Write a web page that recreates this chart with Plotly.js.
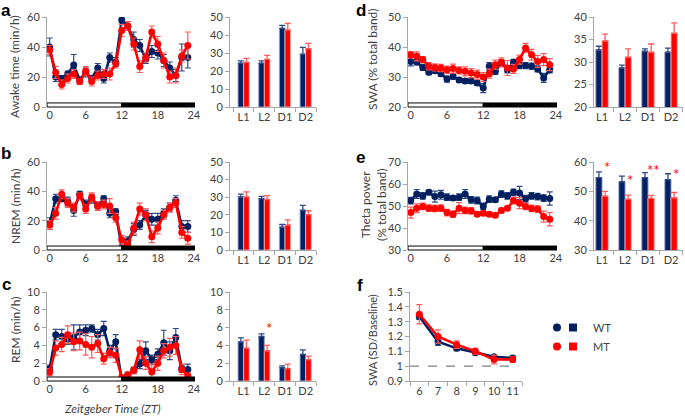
<!DOCTYPE html>
<html><head><meta charset="utf-8">
<script src="https://cdn.plot.ly/plotly-3.0.1.min.js"></script>
<style>body{margin:0;background:#fff}#chart{width:685px;height:418px}</style>
</head><body><div id="chart"></div>
<script>
// ---------- DATA ----------
const ZT = [0,1,2,3,4,5,6,7,8,9,10,11,12,13,14,15,16,17,18,19,20,21,22,23];
const ZT_TICKS = [0,6,12,18,24];
const PHASES = ['L1','L2','D1','D2'];
const LD_START = [0,12];
const LD_END = [12,24];
const SD_HOURS = ['6','7','8','9','10','11'];

// a: Awake time (min/h)
const awakeWT    = [40,20,19,22,28,18,23,19,26,19,33,30,58,54,45,41,32,37,36,31,26,21,33,33];
const awakeWTerr = [6,3,2,2,7,2,3,2,3,3,3,3,2,3,5,4,3,4,4,4,4,4,9,7];
const awakeMT    = [38,23,15,19,22,17,24,17,21,22,22,29,51,54,42,27,33,50,42,31,20,21,34,41];
const awakeMTerr = [3,4,3,3,3,2,3,3,3,3,4,3,4,3,4,4,3,4,5,5,4,5,4,9];
const awakeBarWT = [24.3,24.3,43.7,29.4], awakeBarWTerr = [1.3,1.3,1.7,3.7];
const awakeBarMT = [24.8,26.5,42.8,32.4], awakeBarMTerr = [2.2,2.2,3.7,3.0];

// b: NREM (min/h)
const nremWT    = [18,35,35,33,27,38,31,35,30,35,25,26,1,6,14,17,24,21,21,25,29,34,16,16];
const nremWTerr = [4,3,2,3,4,2,3,3,3,2,3,2,2,3,4,3,3,4,4,3,3,3,4,4];
const nremMT    = [17,25,38,32,29,37,28,36,30,31,30,22,7,3,15,28,24,9,15,24,29,32,12,8];
const nremMTerr = [3,4,3,3,3,2,3,3,3,3,5,3,3,3,4,4,4,4,4,3,3,3,4,4];
const nremBarWT = [30.2,29.2,13.0,22.7], nremBarWTerr = [1.5,1.3,1.5,2.6];
const nremBarMT = [30.2,28.7,14.2,20.1], nremBarMTerr = [2.8,2.2,2.9,2.2];

// c: REM (min/h)
const remWT    = [1.4,5.2,5.0,4.7,4.9,5.5,5.7,5.9,5.2,5.9,3.4,4.4,0.1,0.6,1.2,1.9,3.4,2.4,3.0,4.3,3.4,4.9,1.4,1.3];
const remWTerr = [0.4,0.6,0.8,0.6,1.4,0.8,0.6,0.4,0.6,0.8,0.6,0.8,0.1,0.3,0.3,0.5,1.0,0.5,0.6,1.4,1.0,1.0,0.4,0.6];
const remMT    = [1.0,3.7,4.1,5.2,4.4,4.5,4.1,3.8,4.2,2.5,3.2,2.9,0.4,0.7,1.2,3.5,2.0,1.0,2.0,3.4,3.8,4.0,1.3,0.6];
const remMTerr = [0.4,0.8,0.8,1.0,1.0,1.0,1.2,1.2,1.0,0.6,0.6,0.8,0.2,0.3,0.4,1.0,0.7,0.8,0.8,0.8,1.0,1.0,0.6,0.3];
const remBarWT = [4.4,5.0,1.5,3.0], remBarWTerr = [0.45,0.3,0.2,0.5];
const remBarMT = [3.7,3.4,1.4,2.4], remBarMTerr = [0.9,0.6,0.5,0.4];
const remSig = ['','*','',''];

// d: SWA (% total band)
const swaWT    = [35.2,35.0,33.2,31.6,32.1,31.1,29.3,30.2,29.0,28.7,28.7,28.0,26.3,33.6,31.9,34.7,32.4,34.9,33.8,33.8,33.6,32.7,29.7,32.4];
const swaWTerr = [1.5,1.0,1.0,0.8,0.8,0.8,1.0,0.8,0.8,0.8,0.8,0.8,1.5,1.2,1.0,1.0,1.0,1.0,1.0,1.0,1.0,1.0,1.5,1.0];
const swaMT    = [37.4,36.9,35.8,33.6,33.2,33.0,32.4,32.8,32.2,31.9,31.3,30.8,30.0,31.1,34.1,34.9,33.0,32.7,35.8,39.7,37.4,35.2,35.8,34.1];
const swaMTerr = [1.0,1.5,1.0,1.2,1.2,1.2,1.2,1.5,1.2,1.5,1.5,1.5,1.5,1.5,1.5,1.5,2.5,1.5,1.5,1.5,1.8,2.0,2.0,2.0];
const swaBarWT = [32.7,28.7,32.4,32.2], swaBarWTerr = [0.8,0.6,0.5,0.9];
const swaBarMT = [34.7,31.1,32.2,36.4], swaBarMTerr = [1.5,1.8,1.8,2.3];

// e: Theta power (% total band)
const thetaWT    = [52.4,55.5,54.6,56.2,54.3,55.1,54.0,53.6,54.0,55.5,52.8,52.5,49.8,53.1,52.8,55.4,54.6,56.2,55.9,53.3,54.6,54.3,53.6,53.4];
const thetaWTerr = [1.5,2.0,1.5,1.0,2.5,2.0,1.5,1.0,1.5,2.0,1.5,1.5,1.5,1.5,1.0,1.5,1.5,1.5,3.0,1.5,1.5,1.5,1.5,3.0];
const thetaMT    = [47.0,49.0,49.8,49.0,48.9,49.0,47.0,46.3,49.0,48.0,47.8,46.3,46.7,46.3,45.8,48.0,49.0,52.4,51.3,49.8,48.9,48.6,45.2,44.0];
const thetaMTerr = [2.5,2.0,1.5,1.5,1.5,1.5,1.5,1.5,2.5,1.5,1.5,1.0,1.0,1.0,1.0,1.0,1.0,1.5,2.5,1.5,1.5,1.5,2.5,3.0];
const thetaBarWT = [54.7,53.3,54.7,54.0], thetaBarWTerr = [1.9,1.9,1.7,2.0];
const thetaBarMT = [48.4,47.3,47.6,47.8], thetaBarMTerr = [1.6,1.4,1.0,1.8];
const thetaSig = ['*','*','**','*'];

// f: SWA (SD/Baseline)
const sdWT    = [1.335,1.165,1.12,1.09,1.063,1.055];
const sdWTerr = [0.02,0.025,0.015,0.012,0.01,0.015];
const sdMT    = [1.35,1.20,1.145,1.10,1.045,1.045];
const sdMTerr = [0.065,0.045,0.025,0.02,0.03,0.02];

// ---------- STYLE ----------
const BLUE = '#002060', RED = '#ff0000';
const BLUE_ERR = '#2e4a86', RED_ERR = '#ff5a5a';
const TXT = '#404040', AX = '#a6a6a6';
const FONT = 'Lato, "Open Sans", sans-serif';
const W = 685, H = 418;
const dx = (a,b) => [a/W, b/W];
const dy = (top,bot) => [1-bot/H, 1-top/H];

const traces = [];
function lineTraces(xa, ya, x, wt, wtE, mt, mtE){
  [[wt,wtE,BLUE,BLUE_ERR,'WT'],[mt,mtE,RED,RED_ERR,'MT']].forEach(([v,e,c,ec,n])=>{
    traces.push({type:'scatter', mode:'lines+markers', x:x, y:v, xaxis:xa, yaxis:ya, name:n, showlegend:false,
      line:{color:c,width:2.6}, marker:{color:c,size:7},
      error_y:{type:'data', array:e, visible:true, color:ec, thickness:1.2, width:3}});
  });
}
function barTraces(xa, ya, wt, wtE, mt, mtE){
  [[wt,wtE,BLUE,BLUE_ERR,'rgba(150,160,210,0.9)','WT'],[mt,mtE,RED,RED_ERR,'rgba(255,170,170,0.9)','MT']].forEach(([v,e,c,ec,lc,n])=>{
    traces.push({type:'bar', x:PHASES, y:v, xaxis:xa, yaxis:ya, name:n, showlegend:false,
      marker:{color:c, line:{color:lc,width:1}},
      error_y:{type:'data', symmetric:false, array:e, arrayminus:e.map(()=>0), visible:true, color:ec, thickness:1.3, width:3}});
  });
}

lineTraces('x','y',ZT,awakeWT,awakeWTerr,awakeMT,awakeMTerr);
barTraces('x2','y2',awakeBarWT,awakeBarWTerr,awakeBarMT,awakeBarMTerr);
lineTraces('x3','y3',ZT,nremWT,nremWTerr,nremMT,nremMTerr);
barTraces('x4','y4',nremBarWT,nremBarWTerr,nremBarMT,nremBarMTerr);
lineTraces('x5','y5',ZT,remWT,remWTerr,remMT,remMTerr);
barTraces('x6','y6',remBarWT,remBarWTerr,remBarMT,remBarMTerr);
lineTraces('x7','y7',ZT,swaWT,swaWTerr,swaMT,swaMTerr);
barTraces('x8','y8',swaBarWT,swaBarWTerr,swaBarMT,swaBarMTerr);
lineTraces('x9','y9',ZT,thetaWT,thetaWTerr,thetaMT,thetaMTerr);
barTraces('x10','y10',thetaBarWT,thetaBarWTerr,thetaBarMT,thetaBarMTerr);
lineTraces('x11','y11',SD_HOURS,sdWT,sdWTerr,sdMT,sdMTerr);

// legend entries (symbols only; no plotted points)
[['WT',BLUE],['MT',RED]].forEach(([n,c])=>{
  traces.push({type:'scatter',mode:'markers',x:[null],y:[null],xaxis:'x11',yaxis:'y11',name:' ',legend:'legend2',
    marker:{symbol:'circle',size:8,color:c},showlegend:true,hoverinfo:'skip'});
  traces.push({type:'scatter',mode:'markers',x:[null],y:[null],xaxis:'x11',yaxis:'y11',name:n,legend:'legend',
    marker:{symbol:'square',size:8,color:c},showlegend:true,hoverinfo:'skip'});
});

// ---------- AXES ----------
const tf = {size:11, color:TXT, family:FONT};
function yAx(domain, range, dtick, anchor){
  return {domain, range, dtick, anchor, showline:true, linecolor:AX, linewidth:1, ticks:'outside', ticklen:4,
    tickcolor:AX, showgrid:false, zeroline:false, tickfont:tf, fixedrange:true};
}
const LINE_RANGE = [-0.45, 24.2];
function xLine(domain, anchor){
  return {domain, range:LINE_RANGE, anchor, tickvals:ZT_TICKS, showline:false, ticks:'', showgrid:false,
    zeroline:false, tickfont:tf, tickangle:0, fixedrange:true};
}
function xBar(domain, range, anchor){
  return {domain, range, anchor, type:'category', showline:true, linecolor:AX, linewidth:1, ticks:'outside',
    tickson:'boundaries', ticklen:4, tickcolor:AX, showgrid:false, zeroline:false, tickfont:tf, tickangle:0, fixedrange:true};
}
const L_X = dx(47,195), B_X = dx(230,316), R_LX = dx(408,557), R_BX = dx(594,683);
const ROW1 = dy(17,107), ROW2 = dy(162,250), ROW3 = dy(292,381);
const BAR_RANGE_L = [-0.66,3.5], BAR_RANGE_R = [-0.35,3.52];

const layout = {
  width:W, height:H, margin:{l:0,r:0,t:0,b:0}, paper_bgcolor:'#fff', plot_bgcolor:'rgba(0,0,0,0)',
  font:{family:FONT, color:TXT, size:11}, barmode:'group', bargap:0.46, bargroupgap:0,
  xaxis: xLine(L_X,'y'),            yaxis: yAx(ROW1,[0,60],20,'x'),
  xaxis2: xBar(B_X,BAR_RANGE_L,'y2'), yaxis2: yAx(ROW1,[0,50],10,'x2'),
  xaxis3: xLine(L_X,'y3'),          yaxis3: yAx(ROW2,[0,60],20,'x3'),
  xaxis4: xBar(B_X,BAR_RANGE_L,'y4'), yaxis4: yAx(ROW2,[0,50],10,'x4'),
  xaxis5: xLine(L_X,'y5'),          yaxis5: yAx(ROW3,[0,10],2,'x5'),
  xaxis6: xBar(B_X,BAR_RANGE_L,'y6'), yaxis6: yAx(ROW3,[0,10],2,'x6'),
  xaxis7: xLine(R_LX,'y7'),         yaxis7: yAx(ROW1,[20,50],10,'x7'),
  xaxis8: xBar(R_BX,BAR_RANGE_R,'y8'), yaxis8: yAx(ROW1,[20,40],5,'x8'),
  xaxis9: xLine(R_LX,'y9'),         yaxis9: yAx(ROW2,[30,70],10,'x9'),
  xaxis10: xBar(R_BX,BAR_RANGE_R,'y10'), yaxis10: yAx(ROW2,[30,60],10,'x10'),
  xaxis11: xBar(dx(410,522),[-0.5,5.5],'y11'), yaxis11: yAx(ROW3,[0.9,1.5],0.1,'x11'),
  legend: {x:553/W, y:1-313/H, xanchor:'left', yanchor:'top', bgcolor:'rgba(0,0,0,0)', font:{size:11,color:TXT,family:FONT}, itemwidth:30, tracegroupgap:0},
  legend2:{x:537/W, y:1-313/H, xanchor:'left', yanchor:'top', bgcolor:'rgba(0,0,0,0)', font:{size:11,color:TXT,family:FONT}, itemwidth:30, tracegroupgap:0},
  shapes: [], annotations: []
};

// light/dark bars under each 24-h plot
[['x','y'],['x3','y3'],['x5','y5'],['x7','y7'],['x9','y9']].forEach(([xa,ya])=>{
  LD_START.forEach((s,i)=>{
    layout.shapes.push({type:'rect', xref:xa, yref:ya+' domain',
      x0: i===0 ? LINE_RANGE[0] : s, x1: i===LD_START.length-1 ? LINE_RANGE[1] : LD_END[i],
      y0:0, y1:0.045, fillcolor: i===0 ? '#ffffff' : '#000000', line:{color:'#000000', width:1}});
  });
});
// baseline reference in f
layout.shapes.push({type:'line', xref:'x11 domain', yref:'y11', x0:0, x1:0.97, y0:1, y1:1, line:{color:'#808080',width:1.2,dash:'dash'}});

// significance stars
function stars(xa, ya, sig, mt, mtE, lift){
  sig.forEach((s,i)=>{ if(!s) return;
    layout.annotations.push({xref:xa, yref:ya, x:i, y:mt[i]+mtE[i]+lift[i], text:s, showarrow:false, xshift:5,
      font:{size:15,color:RED,family:FONT}, xanchor:'center', yanchor:'middle'});
  });
}
stars('x6','y6',remSig,remBarMT,remBarMTerr,[0,1.9,0,0]);
stars('x10','y10',thetaSig,thetaBarMT,thetaBarMTerr,[8.3,5.2,8.7,6.2]);

// text labels
function ann(text, x, y, opts){ layout.annotations.push(Object.assign({xref:'paper', yref:'paper', x:x/W, y:1-y/H, text, showarrow:false, xanchor:'center', yanchor:'middle', font:{size:12,color:TXT,family:FONT}}, opts||{})); }
const panelFont = {size:17, color:'#000', family:'"Liberation Sans", Arial, sans-serif'};
ann('<b>a</b>',6,10,{font:panelFont}); ann('<b>b</b>',6,153,{font:panelFont}); ann('<b>c</b>',6,284,{font:panelFont});
ann('<b>d</b>',361,11,{font:panelFont}); ann('<b>e</b>',361,157,{font:panelFont}); ann('<b>f</b>',360,285,{font:panelFont});
ann('Awake time (min/h)',14,67,{textangle:-90});
ann('NREM (min/h)',15,206,{textangle:-90});
ann('REM (min/h)',15,330,{textangle:-90});
ann('<i>Zeitgeber Time (ZT)</i>',113,408,{});
ann('SWA (% total band)',372,59,{textangle:-90});
ann('Theta power<br>(% total band)',374,205,{textangle:-90});
ann('SWA (SD/Baseline)',372,340,{textangle:-90, font:{size:11,color:TXT,family:FONT}});

Plotly.newPlot('chart', traces, layout, {staticPlot:true, displayModeBar:false});
</script></body></html>
